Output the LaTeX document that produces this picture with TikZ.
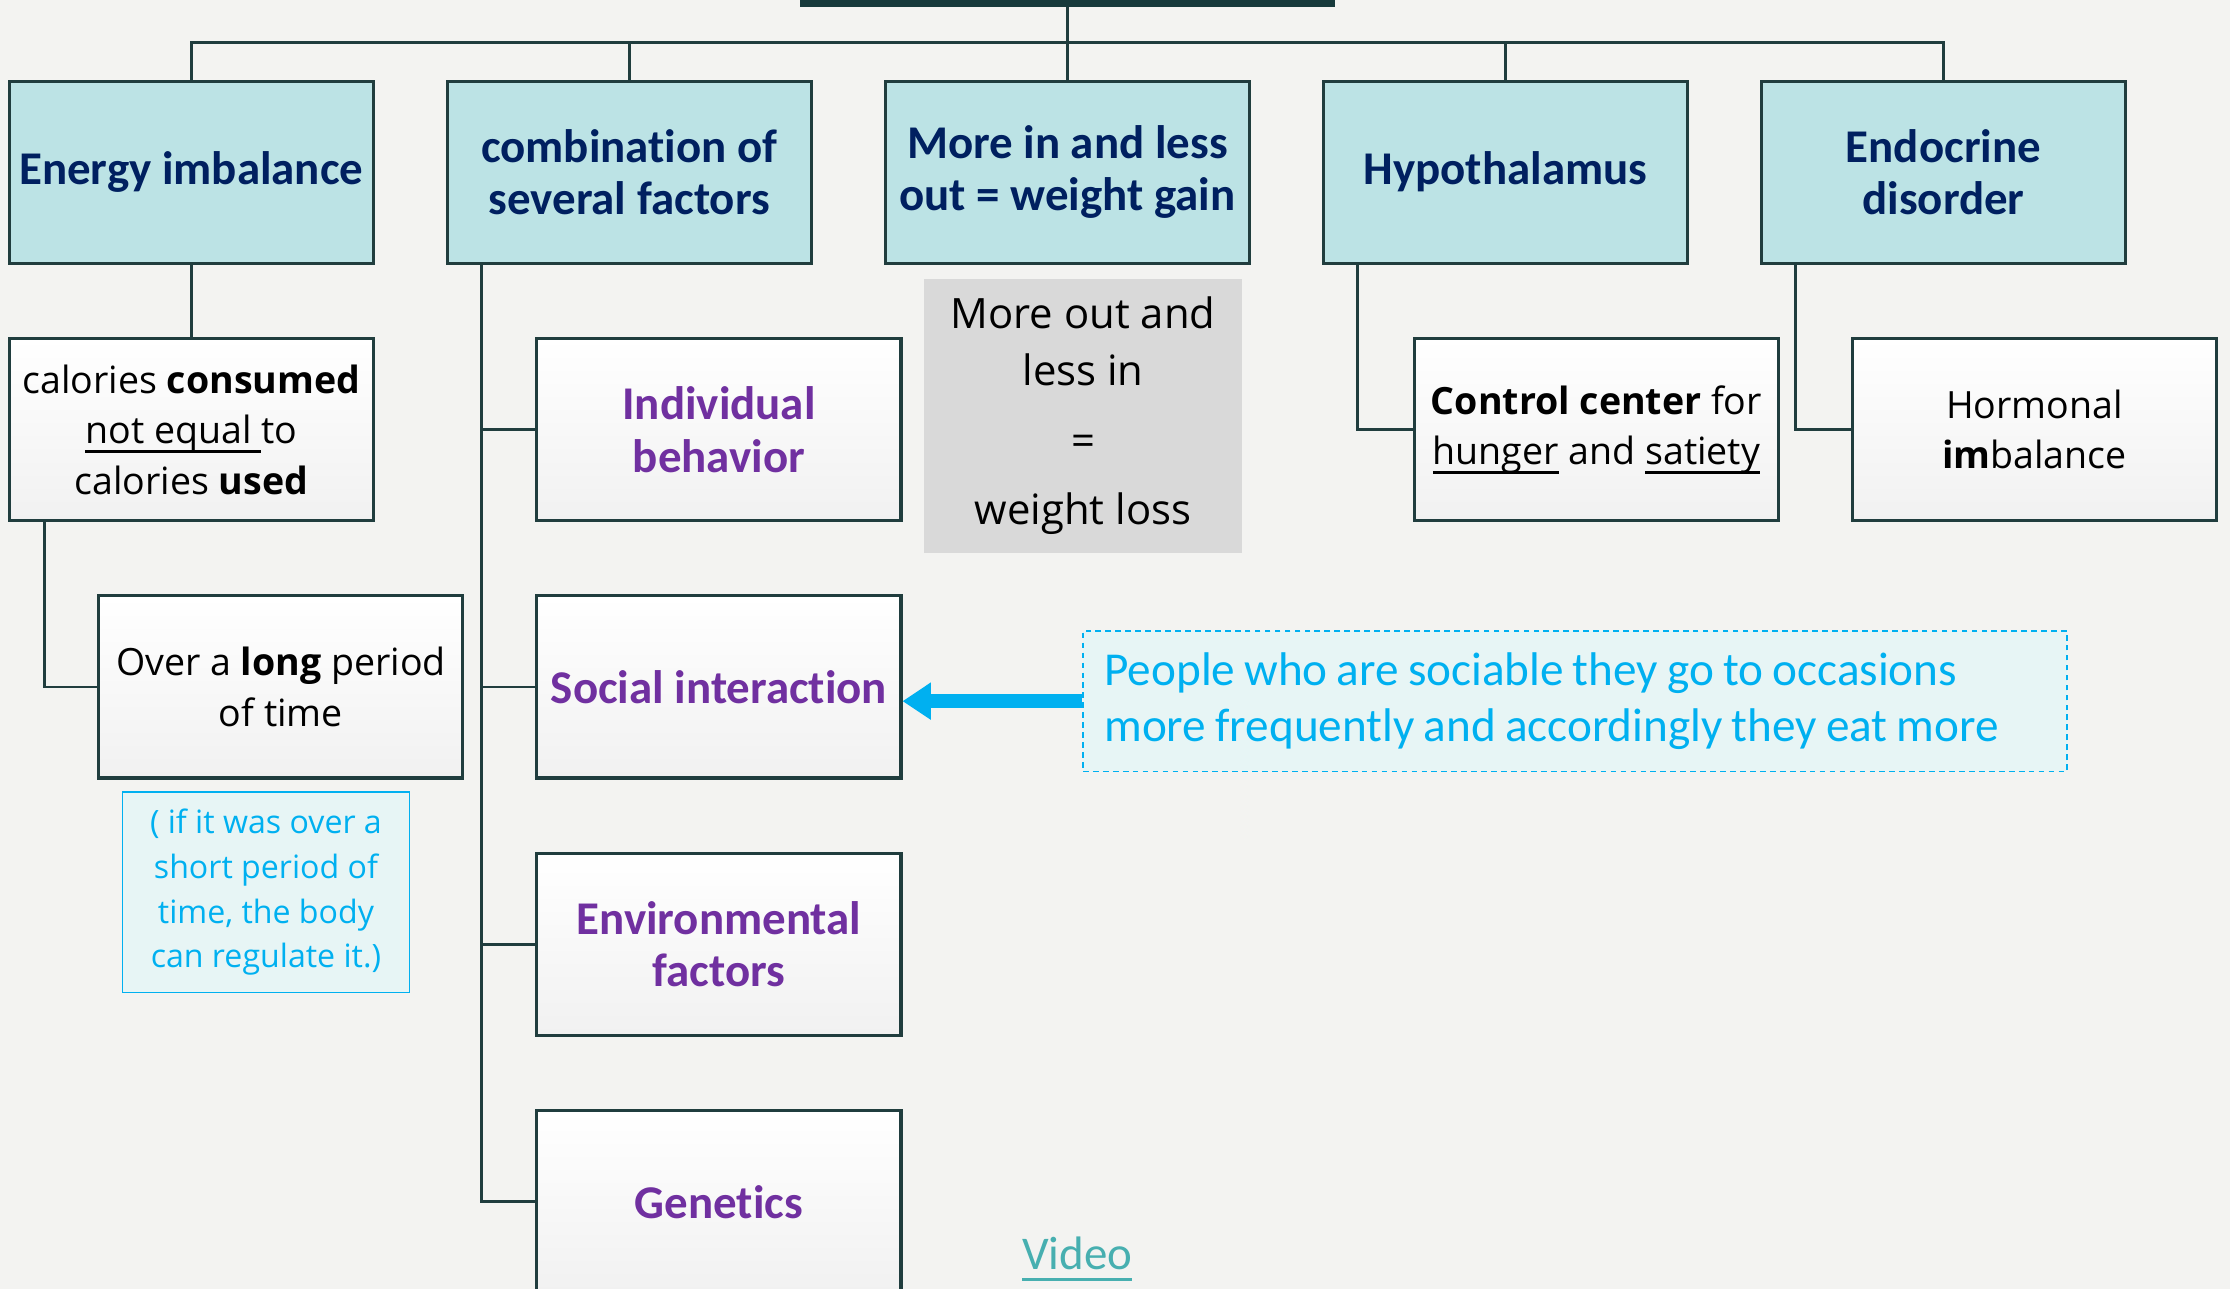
\documentclass[tikz,border=0pt]{standalone}
\usepackage{fontspec}
\setmainfont{Carlito}[Ligatures=NoCommon]
\newfontfamily\opensans{Open Sans}
\usepackage{tikz}
\usetikzlibrary{shapes.geometric, arrows.meta}
\definecolor{bgcol}{HTML}{F3F3F1}
\definecolor{rootcol}{HTML}{173A3C}
\definecolor{edgecol}{HTML}{203D3E}
\definecolor{tealfill}{HTML}{BCE3E5}
\definecolor{navy}{HTML}{002060}
\definecolor{factorpurple}{HTML}{7030A0}
\definecolor{boxgray}{HTML}{F1F1F1}
\definecolor{graybox}{HTML}{D9D9D9}
\definecolor{noteblue}{HTML}{00B0F0}
\definecolor{notefill}{HTML}{E7F5F5}
\definecolor{videoteal}{HTML}{47AFB0}
\newcommand{\under}[2][3.2pt]{\setbox0\hbox{#2}\rlap{\rule[-#1]{\wd0}{0.8pt}}\box0\relax}
\newcommand{\tightspaces}{\spaceskip=3.2pt plus 1pt\relax}
\tikzstyle{rootbar} = [rectangle, minimum width=188pt, minimum height=30pt, inner sep=0pt, fill=rootcol]
\tikzstyle{heading} = [rectangle, minimum width=128pt, minimum height=64pt, inner sep=2pt, align=center, draw=edgecol, line width=1.1pt, fill=tealfill, text=navy, font=\fontsize{16.5}{18.5}\selectfont\bfseries]
\tikzstyle{detail} = [rectangle, minimum width=128pt, minimum height=64pt, inner sep=2pt, align=center, draw=edgecol, line width=1.1pt, top color=white, bottom color=boxgray, text=black, font=\opensans\fontsize{13.2}{17.75}\selectfont]
\tikzstyle{factor} = [detail, text=factorpurple, font=\fontsize{16.5}{18.5}\selectfont\bfseries]
\tikzstyle{summary} = [rectangle, minimum width=111.5pt, minimum height=96.5pt, align=center, fill=graybox, font=\opensans\fontsize{14.7}{20}\selectfont]
\tikzstyle{note} = [rectangle, minimum width=101pt, minimum height=70.5pt, align=center, draw=noteblue, line width=0.5pt, fill=notefill, text=noteblue, font=\opensans\fontsize{11.3}{15.7}\selectfont]
\tikzstyle{remark} = [rectangle, text width=331pt, inner sep=7.5pt, minimum height=49pt, align=left, draw=noteblue, dash pattern=on 2pt off 1.5pt, line width=0.6pt, fill=notefill, text=noteblue, font=\fontsize{16.6}{20}\selectfont]
\tikzstyle{videolink} = [text=videoteal, font=\fontsize{16.5}{18.5}\selectfont]
\tikzstyle{link} = [draw=edgecol, line width=1pt]
\tikzstyle{arrow} = [draw=noteblue, line width=5pt, -{Triangle[length=10pt,width=12.5pt]}]

\begin{document}
\begin{tikzpicture}[node distance=154pt]
\useasboundingbox (0,0) rectangle (784pt,-453pt);
\clip (0,0) rectangle (784pt,-453pt);
\fill[bgcol] (0,0) rectangle (784pt,-453pt);
\node (root) [rootbar, anchor=south] at (375.25pt,-2.5pt) {};
\node (energy) [heading] at (67.25pt,-60.5pt) {Energy imbalance};
\node (combo) [heading, right of=energy] {combination of\\several factors};
\node (gain) [heading, right of=combo] {More in and less\\out = weight gain};
\node (hypo) [heading, right of=gain] {Hypothalamus};
\node (endo) [heading, right of=hypo] {Endocrine\\disorder};
\node (calories) [detail, node distance=90.5pt, below of=energy] {calories \textbf{consumed}\\\under{not equal\ }to\\calories \textbf{used}};
\node (longtime) [detail, node distance=90.5pt, below of=calories, xshift=31.5pt] {Over a \textbf{long} period\\of time};
\node (shorttime) [note, node distance=72.25pt, below of=longtime, xshift=-5.25pt] {( if it was over a\\short period of\\time, the body\\can regulate it.)};
\node (individual) [factor, node distance=90.5pt, below of=combo, xshift=31.5pt] {Individual\\behavior};
\node (social) [factor, node distance=90.5pt, below of=individual] {Social interaction};
\node (environment) [factor, node distance=90.5pt, below of=social] {Environmental\\factors};
\node (genetics) [factor, node distance=90.5pt, below of=environment] {Genetics};
\node (loss) [summary, node distance=85.75pt, below of=gain, xshift=5.5pt] {More out and\\less in\\[4.5pt]=\\[4.5pt]weight loss};
\node (control) [detail, node distance=90.5pt, below of=hypo, xshift=32pt] {\textbf{Control center} for\\\under{hunger} and \under{satiety}};
\node (hormonal) [detail, node distance=90.5pt, below of=endo, xshift=32pt] {Hormonal\\\textbf{im}balance};
\node (sociable) [remark, node distance=301pt, right of=social, yshift=-5pt] {\tightspaces People who are sociable they go to occasions\\more frequently and accordingly they eat more};
\node (video) [videolink, node distance=126pt, right of=genetics, yshift=-20pt] {\under[4pt]{Video}};
\coordinate (bus) at ([yshift=-12.5pt]root.south);
\coordinate (spine) at ([xshift=12.5pt]combo.south west);
\draw [link] (root.south) -- (gain.north);
\draw [link] (energy.north) |- (endo.north |- bus) -- (endo.north);
\draw [link] (combo.north) -- (combo.north |- bus);
\draw [link] (hypo.north) -- (hypo.north |- bus);
\draw [link] (energy.south) -- (calories.north);
\draw [link] ([xshift=13pt]calories.south west) |- (longtime.west);
\draw [link] (spine) |- (individual.west);
\draw [link] (spine) |- (social.west);
\draw [link] (spine) |- (environment.west);
\draw [link] (spine) |- (genetics.west);
\draw [link] ([xshift=12.5pt]hypo.south west) |- (control.west);
\draw [link] ([xshift=12.5pt]endo.south west) |- (hormonal.west);
\draw [arrow] (sociable.west) -- (sociable.west -| social.east);
\end{tikzpicture}
\end{document}
